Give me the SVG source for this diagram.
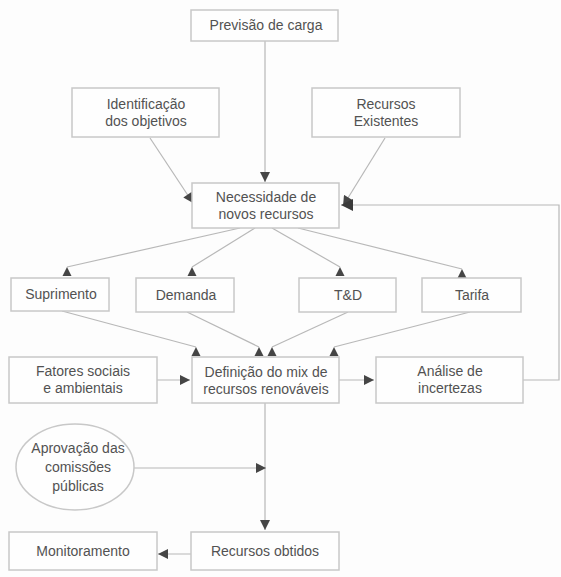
<svg xmlns="http://www.w3.org/2000/svg" width="561" height="577" viewBox="0 0 561 577">
<style>
.box{fill:#fefefe;stroke:#c8c8c8;stroke-width:1.5}
.t{font-family:"Liberation Sans",Arial,sans-serif;font-size:14px;fill:#525252;text-anchor:middle}
.c{fill:none;stroke:#b8b8b8;stroke-width:1.2}
.cu{fill:none;stroke:#b8b8b8;stroke-width:1.2;marker-end:url(#up)}
.ca{fill:none;stroke:#b8b8b8;stroke-width:1.2;marker-end:url(#ah)}
</style>
<defs>
<marker id="ah" viewBox="0 0 10 10" refX="10" refY="5" markerWidth="11" markerHeight="10" markerUnits="userSpaceOnUse" orient="auto">
<path d="M0,0 L10,5 L0,10 z" fill="#454545"/>
</marker>
<marker id="up" viewBox="0 0 10 10" refX="5" refY="0" markerWidth="11" markerHeight="9" markerUnits="userSpaceOnUse" orient="0">
<path d="M0,10 L5,0 L10,10 z" fill="#454545"/>
</marker>
<marker id="big" viewBox="0 0 10 10" refX="10" refY="5" markerWidth="12" markerHeight="12" markerUnits="userSpaceOnUse" orient="auto">
<path d="M0,0 L10,5 L0,10 z" fill="#3a3a3a"/>
</marker>
</defs>
<rect width="561" height="577" fill="#fdfdfd"/>

<g id="connectors">
<line class="ca" x1="265" y1="41" x2="265" y2="182"/>
<line class="ca" x1="150" y1="138" x2="193" y2="203"/>
<line class="ca" x1="385" y1="138" x2="343" y2="206"/>
<polyline class="c" points="523,380 559,380 559,205 341,205" style="marker-end:url(#big)"/>
<line class="cu" x1="240" y1="228" x2="67" y2="267"/>
<line class="cu" x1="255" y1="228" x2="192" y2="267"/>
<line class="cu" x1="272" y1="228" x2="340" y2="267"/>
<line class="cu" x1="298" y1="228" x2="462" y2="269"/>
<line class="cu" x1="62" y1="311" x2="196" y2="347"/>
<line class="cu" x1="187" y1="312" x2="259" y2="347"/>
<line class="cu" x1="348" y1="312" x2="272" y2="347"/>
<line class="cu" x1="470" y1="312" x2="334" y2="347"/>
<line class="ca" x1="157" y1="380" x2="190" y2="380"/>
<line class="ca" x1="339" y1="380" x2="374" y2="380"/>
<line class="ca" x1="265" y1="403" x2="265" y2="530"/>
<line class="ca" x1="134" y1="468" x2="266" y2="468"/>
<line class="ca" x1="191" y1="554" x2="158" y2="554"/>
</g>

<g id="previsao"><rect class="box" x="191" y="10" width="147" height="31"/><text class="t" x="266" y="30">Previsão de carga</text></g>
<g id="identificacao"><rect class="box" x="72" y="88" width="147" height="49"/><text class="t" x="146" y="109">Identificação</text><text class="t" x="146" y="126">dos objetivos</text></g>
<g id="recursos-existentes"><rect class="box" x="312" y="88" width="148" height="49"/><text class="t" x="386" y="109">Recursos</text><text class="t" x="386" y="126">Existentes</text></g>
<g id="necessidade"><rect class="box" x="192" y="183" width="147" height="45"/><text class="t" x="266" y="202">Necessidade de</text><text class="t" x="266" y="219">novos recursos</text></g>
<g id="suprimento"><rect class="box" x="11" y="278" width="98" height="33"/><text class="t" x="61" y="299">Suprimento</text></g>
<g id="demanda"><rect class="box" x="136" y="278" width="98" height="34"/><text class="t" x="186" y="300">Demanda</text></g>
<g id="td"><rect class="box" x="299" y="278" width="97" height="34"/><text class="t" x="348" y="300">T&amp;D</text></g>
<g id="tarifa"><rect class="box" x="422" y="278" width="99" height="34"/><text class="t" x="472" y="300">Tarifa</text></g>
<g id="fatores"><rect class="box" x="9" y="357" width="148" height="46"/><text class="t" x="83" y="376">Fatores sociais</text><text class="t" x="83" y="393">e ambientais</text></g>
<g id="definicao"><rect class="box" x="192" y="357" width="147" height="46"/><text class="t" x="266" y="377">Definição do mix de</text><text class="t" x="266" y="394">recursos renováveis</text></g>
<g id="analise"><rect class="box" x="376" y="357" width="147" height="46"/><text class="t" x="450" y="376">Análise de</text><text class="t" x="450" y="393">incertezas</text></g>
<g id="aprovacao"><ellipse class="box" cx="75" cy="467" rx="59" ry="43"/><text class="t" x="78" y="453">Aprovação das</text><text class="t" x="78" y="472">comissões</text><text class="t" x="78" y="491">públicas</text></g>
<g id="recursos-obtidos"><rect class="box" x="191" y="532" width="148" height="38"/><text class="t" x="265" y="556">Recursos obtidos</text></g>
<g id="monitoramento"><rect class="box" x="9" y="532" width="148" height="38"/><text class="t" x="83" y="556">Monitoramento</text></g>
</svg>
